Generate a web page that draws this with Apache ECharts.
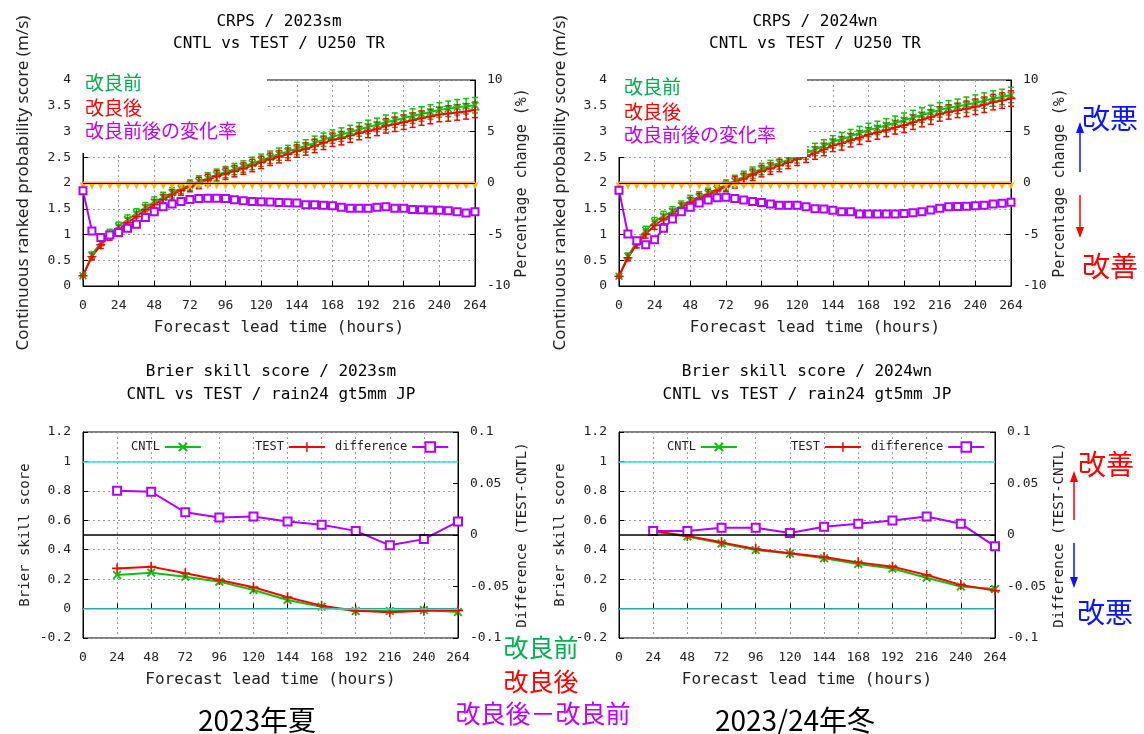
<!DOCTYPE html>
<html>
<head>
<meta charset="UTF-8">
<title>CRPS / BSS</title>
<script src="https://cdn.jsdelivr.net/npm/echarts/dist/echarts.min.js"></script>
<style>
  html, body { margin: 0; padding: 0; background: #fff; }
  #main { width: 1144px; height: 734px; }
</style>
</head>
<body>
<div id="main"></div>
<script>
// lead times
var hours6 = [0,6,12,18,24,30,36,42,48, 54,60,66,72,78,84,90,96,102,
  108,114,120,126,132,138,144,150,156, 162,168,174,180,186,192,198,204,210,
  216,222,228,234,240,246,252,258,264];
var hours24 = [24,48,72,96,120,144,168,192,216,240,264];

// CRPS 2023sm
var crpsCntlSm = [0.20,0.60,0.85,1.02,1.16,1.29,1.41,1.53,1.63,
  1.72,1.81,1.89,1.96,2.03,2.09,2.16,2.21,2.27,
  2.32,2.38,2.44,2.50,2.56,2.61,2.67,2.72,2.78,
  2.84,2.90,2.94,2.99,3.04,3.09,3.13,3.18,3.22,
  3.26,3.30,3.34,3.38,3.42,3.44,3.47,3.49,3.51];
var crpsTestSm = [0.20,0.57,0.80,0.97,1.10,1.23,1.35,1.48,1.58,
  1.68,1.77,1.86,1.93,2.00,2.06,2.13,2.18,2.23,
  2.28,2.34,2.40,2.46,2.51,2.56,2.62,2.66,2.72,
  2.78,2.84,2.87,2.92,2.97,3.01,3.05,3.11,3.14,
  3.18,3.22,3.26,3.29,3.33,3.35,3.37,3.39,3.42];
var crpsChgSm = [-0.75,-4.65,-5.3,-5.05,-4.8,-4.4,-4.0,-3.35,-2.8,
  -2.3,-2.05,-1.8,-1.6,-1.5,-1.48,-1.48,-1.5,-1.62,
  -1.72,-1.8,-1.82,-1.85,-1.9,-1.92,-1.95,-2.1,-2.12,
  -2.15,-2.22,-2.35,-2.45,-2.45,-2.45,-2.35,-2.3,-2.45,
  -2.45,-2.58,-2.6,-2.62,-2.65,-2.7,-2.78,-2.92,-2.8];
var crpsErrSm = [0.03,0.06,0.07,0.08,0.08,0.09,0.09,0.09,0.10,
  0.10,0.10,0.10,0.10,0.11,0.11,0.11,0.11,0.11,
  0.11,0.12,0.12,0.12,0.12,0.12,0.12,0.12,0.13,
  0.13,0.13,0.13,0.13,0.13,0.13,0.13,0.14,0.14,
  0.14,0.14,0.14,0.14,0.14,0.15,0.15,0.15,0.15];
var crpsSigSm = [0,0,0,0,0,0,0,0,0, 0,0,0,0,0,0,0,0,0, 0,0,0,0,0,0,0,0,0,
  0,0,0,0,0,0,0,0,0, 0,0,0,0,0,0,0,0,0];

// CRPS 2024wn
var crpsCntlWn = [0.19,0.58,0.86,1.08,1.25,1.36,1.45,1.56,1.66,
  1.73,1.80,1.88,1.96,2.04,2.12,2.20,2.27,2.33,
  2.39,2.45,2.51,2.58,2.65,2.72,2.80,2.85,2.91,
  2.97,3.03,3.07,3.12,3.17,3.22,3.27,3.32,3.37,
  3.42,3.46,3.49,3.52,3.56,3.60,3.64,3.67,3.71];
var crpsTestWn = [0.19,0.55,0.81,1.01,1.18,1.30,1.40,1.52,1.62,
  1.70,1.77,1.85,1.93,2.01,2.08,2.16,2.23,2.28,
  2.34,2.40,2.46,2.52,2.58,2.65,2.73,2.77,2.83,
  2.88,2.94,2.98,3.03,3.08,3.12,3.18,3.23,3.28,
  3.34,3.38,3.41,3.44,3.48,3.52,3.57,3.60,3.64];
var crpsChgWn = [-0.7,-4.95,-5.6,-6.0,-5.5,-4.4,-3.5,-2.8,-2.35,
  -1.95,-1.65,-1.42,-1.38,-1.5,-1.65,-1.8,-1.9,-2.05,
  -2.15,-2.17,-2.17,-2.3,-2.5,-2.52,-2.65,-2.78,-2.8,
  -3.0,-3.0,-3.0,-3.0,-3.0,-2.95,-2.9,-2.78,-2.62,
  -2.46,-2.3,-2.28,-2.25,-2.22,-2.15,-2.05,-1.97,-1.88];
var crpsErrWn = [0.03,0.06,0.07,0.08,0.08,0.09,0.09,0.09,0.10,
  0.10,0.10,0.10,0.10,0.11,0.11,0.11,0.11,0.11,
  0.12,0.12,0.12,0.12,0.12,0.12,0.12,0.13,0.13,
  0.13,0.13,0.13,0.13,0.13,0.14,0.14,0.14,0.14,
  0.14,0.14,0.14,0.15,0.15,0.15,0.15,0.15,0.15];
var crpsSigWn = [0,0,0,0,0,0,0,0,0, 0,0,0,0,0,0,0,0,0, 0,0,0,0,0,0,0,0,0,
  0,0,0,0,0,0,0,0,0, 0,0,0,0,0,0,0,0,0];

// Brier skill score
var bssCntlSm = [0.228,0.244,0.217,0.183,0.126,0.058,0.013,-0.017,-0.017,-0.010,-0.024];
var bssTestSm = [0.273,0.285,0.240,0.194,0.145,0.077,0.020,-0.015,-0.025,-0.014,-0.012];
var bssDiffSm = [0.043,0.042,0.022,0.017,0.018,0.013,0.010,0.004,-0.010,-0.004,0.013];
var bssCntlWn = [0.523,0.490,0.443,0.398,0.374,0.342,0.303,0.272,0.210,0.150,0.133];
var bssTestWn = [0.527,0.494,0.450,0.405,0.376,0.350,0.314,0.285,0.228,0.161,0.122];
var bssDiffWn = [0.004,0.004,0.007,0.007,0.002,0.008,0.011,0.014,0.018,0.011,-0.011];

var MONO = '"DejaVu Sans Mono", monospace';
var CJK = '"Noto Sans CJK JP", sans-serif';
var GREEN = '#10c010', RED = '#ff0000', PURPLE = '#b400ff', ORANGE = '#ffb020';
var SYM_X = 'path://M0,1.5L1.5,0L5,3.5L8.5,0L10,1.5L6.5,5L10,8.5L8.5,10L5,6.5L1.5,10L0,8.5L3.5,5Z';
var SYM_PLUS = 'path://M4.2,0H5.8V4.2H10V5.8H5.8V10H4.2V5.8H0V4.2H4.2Z';

function pairs(xs, ys) {
  var out = [];
  for (var i = 0; i < xs.length; i++) out.push([xs[i], ys[i]]);
  return out;
}

var grids = [
  {left: 83, top: 80, width: 392, height: 206},
  {left: 619, top: 80, width: 392, height: 206},
  {left: 83, top: 432, width: 375, height: 206},
  {left: 619, top: 432, width: 376, height: 206}
];
grids.forEach(function(g) { g.show = true; g.borderColor = '#000'; g.borderWidth = 1; g.backgroundColor = 'transparent'; });

function xAxisOf(g) {
  return {
    gridIndex: g, type: 'value', min: 0, max: 264, interval: 24,
    name: 'Forecast lead time (hours)', nameLocation: 'middle', nameGap: 34,
    nameTextStyle: {fontFamily: MONO, fontSize: 16, color: '#222'},
    axisLine: {lineStyle: {color: '#000'}},
    axisTick: {inside: true, length: 5, lineStyle: {color: '#000'}},
    axisLabel: {fontFamily: MONO, fontSize: 13, color: '#222', margin: 13},
    splitLine: {show: true, lineStyle: {color: '#999', type: [2, 3]}}
  };
}

function yAxisOf(g, pos, min, max, step, name, nameFont, nameSize, gap, grid) {
  return {
    gridIndex: g, type: 'value', position: pos, min: min, max: max, interval: step,
    name: name, nameLocation: 'middle', nameRotate: 90, nameGap: gap,
    nameTextStyle: {fontFamily: nameFont, fontSize: nameSize, color: '#222'},
    axisLine: {show: true, lineStyle: {color: '#000'}},
    axisTick: {show: true, inside: true, length: 5, lineStyle: {color: '#000'}},
    axisLabel: {fontFamily: MONO, fontSize: 13, color: '#222', margin: 12},
    splitLine: {show: grid, lineStyle: {color: '#999', type: [2, 3]}}
  };
}

function errBars(g, yi, vals, errs, color) {
  var data = [];
  for (var i = 0; i < hours6.length; i++) data.push([hours6[i], vals[i], errs[i]]);
  return {
    type: 'custom', name: 'err', xAxisIndex: g, yAxisIndex: yi, silent: true,
    data: data, encode: {x: 0, y: 1},
    renderItem: function(params, api) {
      var x = api.value(0), v = api.value(1), e = api.value(2);
      var lo = api.coord([x, v - e]), hi = api.coord([x, v + e]);
      var st = {stroke: color, lineWidth: 1.5};
      return {type: 'group', children: [
        {type: 'line', shape: {x1: lo[0], y1: lo[1], x2: hi[0], y2: hi[1]}, style: st},
        {type: 'line', shape: {x1: lo[0] - 3, y1: lo[1], x2: lo[0] + 3, y2: lo[1]}, style: st},
        {type: 'line', shape: {x1: hi[0] - 3, y1: hi[1], x2: hi[0] + 3, y2: hi[1]}, style: st}
      ]};
    }
  };
}

function crpsSeries(g, cntl, test, chg, err, sig) {
  var yl = 2 * g, yr = 2 * g + 1;
  return [
    errBars(g, yl, cntl, err, GREEN),
    {type: 'line', name: 'crps cntl', xAxisIndex: g, yAxisIndex: yl, data: pairs(hours6, cntl),
      symbol: SYM_X, symbolSize: 8, lineStyle: {color: GREEN, width: 2}, itemStyle: {color: GREEN}},
    errBars(g, yl, test, err, RED),
    {type: 'line', name: 'crps test', xAxisIndex: g, yAxisIndex: yl, data: pairs(hours6, test),
      symbol: SYM_PLUS, symbolSize: 9, lineStyle: {color: RED, width: 2}, itemStyle: {color: RED}},
    {type: 'line', name: 'sig', xAxisIndex: g, yAxisIndex: yr, data: pairs(hours6, sig),
      symbol: 'triangle', symbolRotate: 180, symbolSize: 7, symbolOffset: [0, 3],
      lineStyle: {color: ORANGE, width: 3}, itemStyle: {color: ORANGE},
      markLine: {silent: true, symbol: 'none', label: {show: false},
        lineStyle: {color: '#000', width: 1, type: 'solid'}, data: [{yAxis: 0}]}},
    {type: 'line', name: 'crps chg', xAxisIndex: g, yAxisIndex: yr, data: pairs(hours6, chg),
      symbol: 'emptyRect', symbolSize: 7, lineStyle: {color: PURPLE, width: 2},
      itemStyle: {color: PURPLE, borderWidth: 1.5}}
  ];
}

function bssSeries(g, cntl, test, diff) {
  var yl = 2 * g, yr = 2 * g + 1;
  var cyan = {color: '#33dede', width: 1.5, type: 'solid'};
  return [
    {type: 'line', name: 'CNTL', xAxisIndex: g, yAxisIndex: yl, data: pairs(hours24, cntl),
      symbol: SYM_X, symbolSize: 9, lineStyle: {color: GREEN, width: 2}, itemStyle: {color: GREEN},
      markLine: {silent: true, symbol: 'none', label: {show: false}, data: [
        {yAxis: 1, lineStyle: cyan}, {yAxis: 0, lineStyle: cyan},
        {yAxis: 0.5, lineStyle: {color: '#000', width: 1.5, type: 'solid'}}]}},
    {type: 'line', name: 'TEST', xAxisIndex: g, yAxisIndex: yl, data: pairs(hours24, test),
      symbol: SYM_PLUS, symbolSize: 10, lineStyle: {color: RED, width: 2}, itemStyle: {color: RED}},
    {type: 'line', name: 'difference', xAxisIndex: g, yAxisIndex: yr, data: pairs(hours24, diff),
      symbol: 'emptyRect', symbolSize: 8, lineStyle: {color: PURPLE, width: 2},
      itemStyle: {color: PURPLE, borderWidth: 1.5}}
  ];
}

function legendOf(name, left) {
  return {data: [name], left: left, top: 436, align: 'right', itemWidth: 36, itemHeight: 12,
    selectedMode: false, textStyle: {fontFamily: MONO, fontSize: 12, color: '#222'}};
}

function txt(x, y, s, font, color, align) {
  return {type: 'text', x: x, y: y, z: 101, silent: true,
    style: {text: s, font: font, fill: color || '#000', align: align || 'center', verticalAlign: 'middle'}};
}

function arrow(x, y0, y1, color) {
  var dir = y1 < y0 ? 1 : -1;
  return {type: 'group', z: 101, silent: true, children: [
    {type: 'line', shape: {x1: x, y1: y0, x2: x, y2: y1 + dir * 8}, style: {stroke: color, lineWidth: 1.5}},
    {type: 'polygon', shape: {points: [[x, y1], [x - 4, y1 + dir * 11], [x + 4, y1 + dir * 11]]}, style: {fill: color}}
  ]};
}

var titleFont = '16px ' + MONO;
var labFont = '19px ' + CJK;
var bigFont = '25px ' + CJK;
var noteFont = '28px ' + CJK;

var option = {
  animation: false,
  grid: grids,
  xAxis: [xAxisOf(0), xAxisOf(1), xAxisOf(2), xAxisOf(3)],
  yAxis: [
    yAxisOf(0, 'left', 0, 4, 0.5, 'Continuous ranked probability score (m/s)', '"Noto Sans", sans-serif', 17, 51, true),
    yAxisOf(0, 'right', -10, 10, 5, 'Percentage change (%)', MONO, 15, 38, false),
    yAxisOf(1, 'left', 0, 4, 0.5, 'Continuous ranked probability score (m/s)', '"Noto Sans", sans-serif', 17, 50, true),
    yAxisOf(1, 'right', -10, 10, 5, 'Percentage change (%)', MONO, 15, 42, false),
    yAxisOf(2, 'left', -0.2, 1.2, 0.2, 'Brier skill score', MONO, 14, 51, true),
    yAxisOf(2, 'right', -0.1, 0.1, 0.05, 'Difference (TEST-CNTL)', MONO, 14, 57, false),
    yAxisOf(3, 'left', -0.2, 1.2, 0.2, 'Brier skill score', MONO, 14, 52, true),
    yAxisOf(3, 'right', -0.1, 0.1, 0.05, 'Difference (TEST-CNTL)', MONO, 14, 57, false)
  ],
  legend: [
    legendOf('CNTL', 126), legendOf('TEST', 250), legendOf('difference', 330),
    legendOf('CNTL', 662), legendOf('TEST', 786), legendOf('difference', 866)
  ],
  series: [].concat(
    crpsSeries(0, crpsCntlSm, crpsTestSm, crpsChgSm, crpsErrSm, crpsSigSm),
    crpsSeries(1, crpsCntlWn, crpsTestWn, crpsChgWn, crpsErrWn, crpsSigWn),
    bssSeries(2, bssCntlSm, bssTestSm, bssDiffSm),
    bssSeries(3, bssCntlWn, bssTestWn, bssDiffWn)
  ),
  graphic: [
    // titles
    txt(279, 22, 'CRPS / 2023sm', titleFont),
    txt(279, 44, 'CNTL vs TEST / U250 TR', titleFont),
    txt(815, 22, 'CRPS / 2024wn', titleFont),
    txt(815, 44, 'CNTL vs TEST / U250 TR', titleFont),
    txt(271, 372, 'Brier skill score / 2023sm', titleFont),
    txt(271, 395, 'CNTL vs TEST / rain24 gt5mm JP', titleFont),
    txt(807, 372, 'Brier skill score / 2024wn', titleFont),
    txt(807, 395, 'CNTL vs TEST / rain24 gt5mm JP', titleFont),
    // label boxes over the upper plots
    {type: 'rect', z: 100, silent: true, shape: {x: 80, y: 70, width: 187, height: 83}, style: {fill: '#fff'}},
    {type: 'rect', z: 100, silent: true, shape: {x: 616, y: 70, width: 191, height: 87}, style: {fill: '#fff'}},
    txt(85, 83, '改良前', labFont, '#00b050', 'left'),
    txt(85, 108, '改良後', labFont, '#ff0000', 'left'),
    txt(85, 131, '改良前後の変化率', labFont, '#c000ff', 'left'),
    txt(624, 87, '改良前', labFont, '#00b050', 'left'),
    txt(624, 112, '改良後', labFont, '#ff0000', 'left'),
    txt(624, 135, '改良前後の変化率', labFont, '#c000ff', 'left'),
    // bottom captions
    txt(541, 647, '改良前', bigFont, '#00b050'),
    txt(541, 681, '改良後', bigFont, '#ff0000'),
    txt(543, 713, '改良後－改良前', bigFont, '#c000ff'),
    txt(257, 720, '2023年夏', '28px ' + CJK, '#000'),
    txt(795, 720, '2023/24年冬', '28px ' + CJK, '#000'),
    // better / worse notes
    txt(1110, 118, '改悪', noteFont, '#0a14ff'),
    arrow(1080, 172, 122, '#0a14ff'),
    arrow(1080, 195, 238, '#ff0000'),
    txt(1110, 266, '改善', noteFont, '#ff0000'),
    txt(1106, 464, '改善', noteFont, '#ff0000'),
    arrow(1074, 520, 471, '#ff0000'),
    arrow(1074, 543, 588, '#0a14ff'),
    txt(1105, 612, '改悪', noteFont, '#0a14ff')
  ]
};

var myChart = echarts.init(document.getElementById('main'));
myChart.setOption(option);
</script>
</body>
</html>
